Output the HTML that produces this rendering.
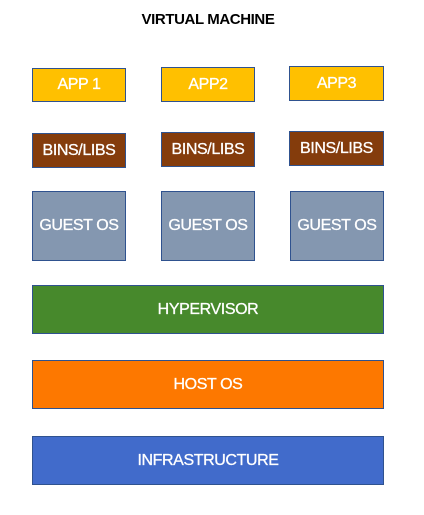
<!DOCTYPE html>
<html><head><style>
body{margin:0;width:424px;height:515px;background:#fff;position:relative;font-family:"Liberation Sans",sans-serif;overflow:hidden}
.b{position:absolute;box-sizing:border-box;border:1px solid #2f528f;color:#fff;display:flex;align-items:center;justify-content:center;font-size:16px;letter-spacing:-0.4px;-webkit-text-stroke:0.3px #fff}
.a{background:#ffc000}.l{background:#843c0c}.g{background:#8497b0}
.t{position:absolute;top:11px;left:0;width:424px;text-align:center;font-size:15px;font-weight:bold;color:#000;letter-spacing:-0.4px}
</style></head><body>
<div class="t" style="left:-4px">VIRTUAL MACHINE</div>
<div class="b a" style="left:32px;top:68px;width:94px;height:34px">APP 1</div>
<div class="b a" style="left:161px;top:67px;width:94px;height:35px">APP2</div>
<div class="b a" style="left:289px;top:66px;width:95px;height:35px">APP3</div>
<div class="b l" style="left:32px;top:133px;width:94px;height:35px">BINS/LIBS</div>
<div class="b l" style="left:161px;top:132px;width:94px;height:35px">BINS/LIBS</div>
<div class="b l" style="left:289px;top:131px;width:95px;height:35px">BINS/LIBS</div>
<div class="b g" style="left:32px;top:191px;width:94px;height:70px">GUEST OS</div>
<div class="b g" style="left:161px;top:191px;width:94px;height:70px">GUEST OS</div>
<div class="b g" style="left:290px;top:191px;width:94px;height:70px">GUEST OS</div>
<div class="b" style="background:#47892c;left:32px;top:285px;width:352px;height:49px">HYPERVISOR</div>
<div class="b" style="background:#fd7800;left:32px;top:360px;width:352px;height:49px">HOST OS</div>
<div class="b" style="background:#416bcb;left:32px;top:436px;width:352px;height:49px">INFRASTRUCTURE</div>
</body></html>
